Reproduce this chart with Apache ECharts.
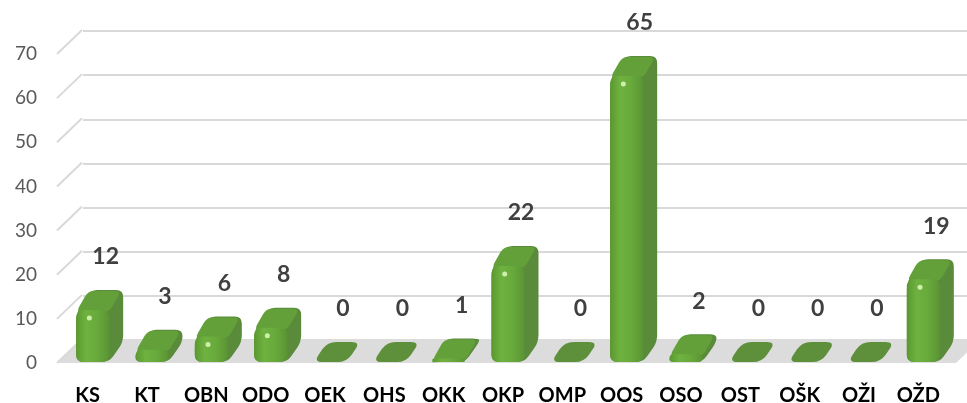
<!DOCTYPE html>
<html><head><meta charset="utf-8">
<script src="https://cdn.jsdelivr.net/npm/echarts@6/dist/echarts.min.js"></script>
<style>html,body{margin:0;padding:0;background:#fff}#c{width:967px;height:403px}</style>
</head><body><div id="c"></div>
<script>
const categories = ['KS','KT','OBN','ODO','OEK','OHS','OKK','OKP','OMP','OOS','OSO','OST','OŠK','OŽI','OŽD'];
const values = [12,3,6,8,0,0,1,22,0,65,2,0,0,0,19];
const yTicks = [0,10,20,30,40,50,60,70];

const DX = 25, DY = -24;      // wall depth
const BDX = 14, BDY = -20;    // bar depth
const BW = 33, BOFF = 5;      // bar front width, shift

function roundPoly(pts, r){
  const n=pts.length; let d='';
  for(let k=0;k<n;k++){
    const p=pts[k], a=pts[(k-1+n)%n], b=pts[(k+1)%n];
    const la=Math.hypot(a[0]-p[0],a[1]-p[1]), lb=Math.hypot(b[0]-p[0],b[1]-p[1]);
    const ra=Math.min(r,la/2), rb=Math.min(r,lb/2);
    const p1=[p[0]+(a[0]-p[0])*ra/la, p[1]+(a[1]-p[1])*ra/la];
    const p2=[p[0]+(b[0]-p[0])*rb/lb, p[1]+(b[1]-p[1])*rb/lb];
    d += (k===0?'M':'L')+p1[0].toFixed(2)+' '+p1[1].toFixed(2)+' Q'+p[0].toFixed(2)+' '+p[1].toFixed(2)+' '+p2[0].toFixed(2)+' '+p2[1].toFixed(2)+' ';
  }
  return d+'Z';
}

const chart = echarts.init(document.getElementById('c'), null, {renderer:'canvas'});
chart.setOption({
  animation:false,
  backgroundColor:'#fff',
  grid:[
    {left:58,right:19,top:54,bottom:40,containLabel:false,outerBoundsMode:'none'},
    {left:83,right:0,top:31,bottom:63,containLabel:false,outerBoundsMode:'none'}
  ],
  xAxis:[
    {type:'category',gridIndex:0,data:categories,axisLine:{show:false},axisTick:{show:false},
     axisLabel:{interval:0,margin:23,color:'#000',fontFamily:'Lato',fontWeight:'bold',fontSize:20}},
    {type:'value',gridIndex:1,show:false,min:0,max:1}
  ],
  yAxis:[
    {type:'value',gridIndex:0,min:0,max:70,interval:10,splitLine:{show:false},axisLine:{show:false},axisTick:{show:false},
     axisLabel:{margin:21,color:'#595959',fontFamily:'Lato',fontSize:19}},
    {type:'value',gridIndex:1,min:0,max:70,interval:10,axisLine:{show:false},axisTick:{show:false},axisLabel:{show:false},
     splitLine:{lineStyle:{color:'#d9d9d9',width:2}}}
  ],
  series:[
    {type:'custom',xAxisIndex:0,yAxisIndex:0,clip:false,silent:true,z:1,
     data:[[0,0]],
     renderItem:function(params,api){
       const cs=params.coordSys; const y=api.coord([0,0])[1];
       const x0=cs.x-1, x1=cs.x+cs.width+8;
       return {type:'polygon',shape:{points:[[x0,y],[x1,y],[x1+DX,y+DY],[x0+DX,y+DY]]},
               style:{fill:'#dcdcdc'}};
     }},
    {type:'custom',xAxisIndex:0,yAxisIndex:0,clip:false,silent:true,z:2,
     data:yTicks.map(v=>[0,v]),
     renderItem:function(params,api){
       const cs=params.coordSys; const y=api.coord([0,api.value(1)])[1];
       return {type:'line',shape:{x1:cs.x-1,y1:y,x2:cs.x-1+DX,y2:y+DY},
               style:{stroke:'#d9d9d9',lineWidth:2}};
     }},
    {type:'custom',xAxisIndex:0,yAxisIndex:0,clip:false,silent:true,z:5,
     data:values.map((v,i)=>[i,v]),
     renderItem:function(params,api){
       const i=api.value(0), v=api.value(1);
       const base=api.coord([i,0]); const top=api.coord([i,v]);
       const cx=base[0]+BOFF, y0=base[1]-1, yt=Math.min(top[1],y0);
       const xl=cx-BW/2, xr=cx+BW/2;
       const h=y0-yt;
       const children=[];
       if(h>0.5){
         children.push({type:'path',shape:{pathData:roundPoly([[xl,yt+4],[xl+BDX,yt+BDY],[xr+BDX,yt+BDY],[xr+BDX,y0+BDY],[xr,y0],[xl,y0]],7)},
           style:{fill:'#5a8b3b'}});
         children.push({type:'path',shape:{pathData:roundPoly([[xl,yt+2],[xl+BDX-2,yt+BDY+1],[xr+BDX-2,yt+BDY+1],[xr,yt+2]],6)},
           style:{fill:'#63a03a'}});
         const rr=Math.min(7,h/2);
         children.push({type:'rect',shape:{x:xl,y:yt,width:BW,height:h,r:[rr,rr,rr,rr]},
           style:{fill:new echarts.graphic.LinearGradient(0,0,1,0,[
             {offset:0,color:'#5a9830'},{offset:0.3,color:'#6fb240'},{offset:0.65,color:'#68a93b'},{offset:1,color:'#5a9434'}])}});
         if(h>14){
           children.push({type:'circle',shape:{cx:xl+BW*0.4,cy:yt+8,r:2.5},style:{fill:'rgba(230,255,200,0.8)'}});
         }
       } else {
         children.push({type:'path',shape:{pathData:roundPoly([[xl,y0],[xr,y0],[xr+BDX,y0+BDY],[xl+BDX,y0+BDY]],9)},
           style:{fill:'#5e8f3b'}});
       }
       children.push({type:'text',style:{text:String(v),x:cx+13,y:yt-53,align:'center',verticalAlign:'middle',
         fill:'#404040',fontFamily:'Lato',fontWeight:'bold',fontSize:23}});
       return {type:'group',children:children};
     }}
  ]
});
</script></body></html>
